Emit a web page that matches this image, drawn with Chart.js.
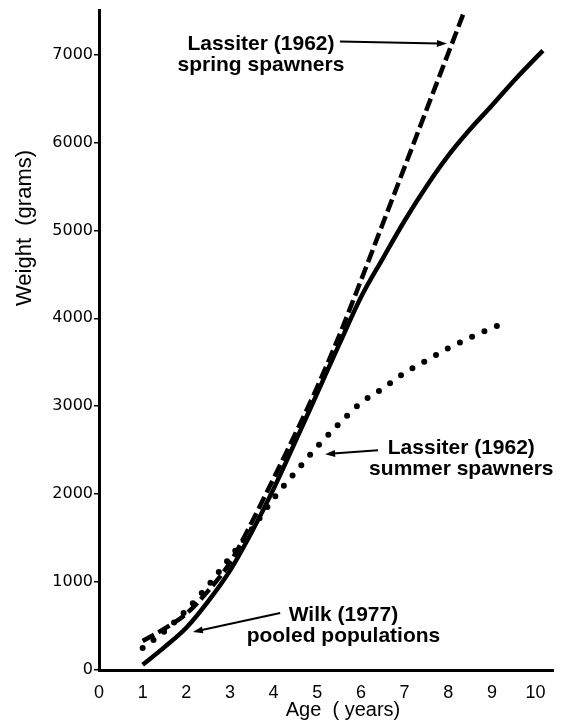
<!DOCTYPE html>
<html>
<head>
<meta charset="utf-8">
<script src="https://cdn.jsdelivr.net/npm/chart.js@4/dist/chart.umd.min.js"></script>
<style>
  html, body { margin: 0; padding: 0; background: #fff; }
  #wrap { width: 563px; height: 722px; }
</style>
</head>
<body>
<div id="wrap"><canvas id="chart" width="563" height="722"></canvas></div>
<script>
// data (age in years, weight in grams)
const wilkAges = [1, 1.5, 2, 2.5, 3, 3.5, 4, 4.5, 5, 5.5, 6, 6.5, 7, 7.5, 8, 8.5, 9, 9.5, 10, 10.17];
const wilkWeights = [60, 260, 480, 780, 1130, 1570, 2060, 2600, 3150, 3700, 4240, 4680, 5110, 5500, 5850, 6150, 6420, 6700, 6960, 7045];

const springAges = [1, 1.5, 2, 2.5, 3, 3.5, 4, 4.5, 5, 5.5, 6, 6.5, 7, 7.5, 8, 8.34];
const springWeights = [330, 470, 640, 900, 1220, 1680, 2180, 2690, 3220, 3800, 4430, 5075, 5720, 6370, 7015, 7455];

const summerAges = [1, 1.5, 2, 2.5, 3, 3.5, 4, 4.5, 5, 5.5, 6, 6.5, 7, 7.5, 8, 8.5, 9, 9.15];
const summerWeights = [250, 440, 680, 960, 1280, 1600, 1950, 2250, 2540, 2800, 3040, 3200, 3380, 3520, 3660, 3780, 3890, 3920];

const xTicks = [0, 1, 2, 3, 4, 5, 6, 7, 8, 9, 10];
const yTicks = [0, 1000, 2000, 3000, 4000, 5000, 6000, 7000];

const toPoints = (xs, ys) => xs.map((x, i) => ({ x: x, y: ys[i] }));

const FONT = '"Liberation Sans", Arial, Helvetica, sans-serif';

// text notes and arrows, placed in data units
const notes = [
  { lines: ['Lassiter (1962)', 'spring spawners'], x: 3.71, y: 7057, arrow: [5.52, 7148, 7.97, 7125] },
  { lines: ['Lassiter (1962)', 'summer spawners'], x: 8.3, y: 2455, arrow: [6.39, 2500, 5.18, 2455] },
  { lines: ['Wilk (1977)', 'pooled populations'], x: 5.6, y: 557, arrow: [4.15, 648, 2.15, 432] }
];

function arrow(ctx, x1, y1, x2, y2) {
  const a = Math.atan2(y2 - y1, x2 - x1);
  const len = 10, half = 3.5;
  ctx.beginPath();
  ctx.moveTo(x1, y1);
  ctx.lineTo(x2 - Math.cos(a) * len * 0.8, y2 - Math.sin(a) * len * 0.8);
  ctx.lineWidth = 2;
  ctx.stroke();
  ctx.beginPath();
  ctx.moveTo(x2, y2);
  ctx.lineTo(x2 - Math.cos(a) * len + Math.sin(a) * half, y2 - Math.sin(a) * len - Math.cos(a) * half);
  ctx.lineTo(x2 - Math.cos(a) * len - Math.sin(a) * half, y2 - Math.sin(a) * len + Math.cos(a) * half);
  ctx.closePath();
  ctx.fill();
}

const notesPlugin = {
  id: 'notes',
  afterDraw(chart) {
    const ctx = chart.ctx;
    const xs = chart.scales.x, ys = chart.scales.y;
    ctx.save();
    ctx.fillStyle = '#000';
    ctx.strokeStyle = '#000';
    ctx.font = 'bold 21px ' + FONT;
    ctx.textAlign = 'center';
    ctx.textBaseline = 'alphabetic';
    notes.forEach(n => {
      const px = xs.getPixelForValue(n.x);
      const py = ys.getPixelForValue(n.y);
      n.lines.forEach((t, i) => ctx.fillText(t, px, py + i * 21));
      const a = n.arrow;
      arrow(ctx, xs.getPixelForValue(a[0]), ys.getPixelForValue(a[1]),
        xs.getPixelForValue(a[2]), ys.getPixelForValue(a[3]));
    });
    // axis titles
    ctx.font = '20px ' + FONT;
    ctx.fillText('Age  ( years)', 343, 716);
    ctx.font = '22px ' + FONT;
    ctx.translate(31, 228);
    ctx.rotate(-Math.PI / 2);
    ctx.fillText('Weight  (grams)', 0, 0);
    ctx.restore();
  }
};

new Chart(document.getElementById('chart'), {
  type: 'line',
  data: {
    datasets: [
      {
        label: 'Wilk (1977) pooled populations',
        data: toPoints(wilkAges, wilkWeights),
        borderColor: '#000', borderWidth: 4.5,
        pointRadius: 0, cubicInterpolationMode: 'monotone'
      },
      {
        label: 'Lassiter (1962) spring spawners',
        data: toPoints(springAges, springWeights),
        borderColor: '#000', borderWidth: 4.5, borderDash: [13, 5],
        pointRadius: 0, cubicInterpolationMode: 'monotone'
      },
      {
        label: 'Lassiter (1962) summer spawners',
        data: toPoints(summerAges, summerWeights),
        borderColor: '#000', borderWidth: 6, borderDash: [0, 13.5],
        borderCapStyle: 'round',
        pointRadius: 0, cubicInterpolationMode: 'monotone'
      }
    ]
  },
  options: {
    responsive: false,
    animation: false,
    layout: { padding: { top: 10, right: 10, left: 0, bottom: 0 } },
    plugins: { legend: { display: false }, tooltip: { enabled: false } },
    scales: {
      x: {
        type: 'linear', min: 0, max: 10.4,
        afterFit: s => { s.height = 52; },
        afterBuildTicks: s => { s.ticks = xTicks.map(v => ({ value: v })); },
        grid: { display: false },
        border: { display: true, color: '#000', width: 3 },
        ticks: { color: '#000', padding: 4, font: { family: FONT, size: 18 } }
      },
      y: {
        type: 'linear', min: 0, max: 7500,
        afterFit: s => { s.width = 99; },
        afterBuildTicks: s => { s.ticks = yTicks.map(v => ({ value: v })); },
        grid: { drawOnChartArea: false, drawTicks: true, tickLength: 5, color: '#000', lineWidth: 1.5 },
        border: { display: true, color: '#000', width: 3 },
        ticks: {
          color: '#000', padding: 1,
          font: { family: '"DejaVu Sans", sans-serif', size: 16 },
          callback: v => String(v)
        }
      }
    }
  },
  plugins: [notesPlugin]
});
</script>
</body>
</html>
